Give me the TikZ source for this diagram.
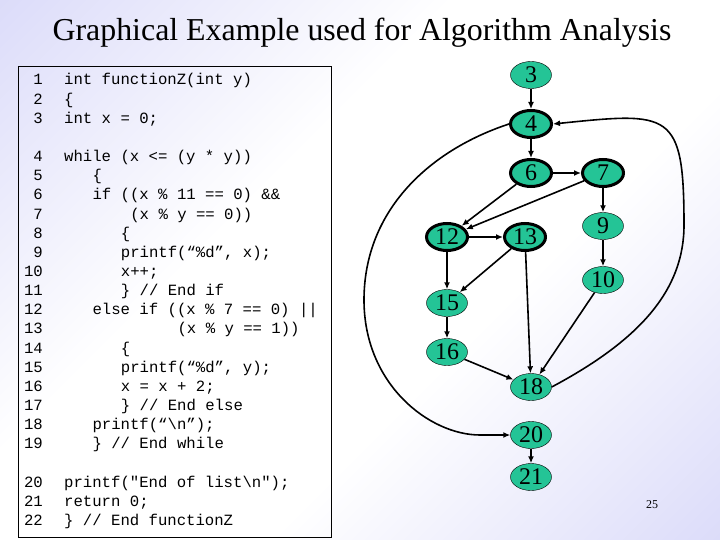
\documentclass[tikz,border=0pt]{standalone}
\usepackage{fontspec}
\setmainfont{Liberation Serif}
\newfontfamily\codefont{Liberation Mono}
\usetikzlibrary{shapes.geometric,arrows.meta}
\definecolor{lavender}{RGB}{200,200,246}
\definecolor{nodegreen}{RGB}{36,196,150}
\pgfdeclareverticalshading{slidebg}{100bp}{color(0bp)=(lavender); color(40bp)=(white);
    color(60bp)=(white); color(100bp)=(lavender)}

\begin{document}
\begin{tikzpicture}[x=1bp, y=-1bp,
    vert/.style={ellipse, draw, fill=nodegreen, minimum width=41bp, minimum height=27bp,
        inner sep=0pt, font=\fontsize{24}{24}\selectfont},
    loopvert/.style={vert, line width=3bp},
    arr/.style={-{Latex[length=7bp,width=6bp]}, line width=1.6bp},
    codeline/.style={anchor=base west, inner sep=0pt, font=\codefont\fontsize{15.7}{19}\selectfont},
    linenum/.style={anchor=base east, inner sep=0pt, font=\codefont\fontsize{15.7}{19}\selectfont}]
    \useasboundingbox (0,0) rectangle (720,540);
    % Background
    \shade[shading=slidebg, shading angle=45] (0,0) rectangle (720,540);

    % Title
    \node (title) at (362,33) {\fontsize{32}{32}\selectfont Graphical Example used for Algorithm Analysis};
    \node (pagenum) at (652,505) {\fontsize{12}{12}\selectfont 25};

    % Code listing
    \draw[line width=0.8bp] (18,66) rectangle (331,537);
    \foreach \num/\row/\ind/\code in {
        1/0/0/{int functionZ(int y)},
        2/1/0/{\{},
        3/2/0/{int x = 0;},
        4/4/0/{while (x <= (y * y))},
        5/5/3/{\{},
        6/6/3/{if ((x \% 11 == 0) \&\&},
        7/7/7/{(x \% y == 0))},
        8/8/6/{\{},
        9/9/6/{printf(“\%d”, x);},
        10/10/6/{x++;},
        11/11/6/{\} // End if},
        12/12/3/{else if ((x \% 7 == 0) ||},
        13/13/12/{(x \% y == 1))},
        14/14/6/{\{},
        15/15/6/{printf(“\%d”, y);},
        16/16/6/{x = x + 2;},
        17/17/6/{\} // End else},
        18/18/3/{printf(“\textbackslash n”);},
        19/19/3/{\} // End while},
        20/21/0/{printf("End of list\textbackslash n");},
        21/22/0/{return 0;},
        22/23/0/{\} // End functionZ}}
    {
        \node[linenum] (num\num) at (43, 85+19.15*\row) {\num};
        \node[codeline] (line\num) at (64+9.45*\ind, 85+19.15*\row) {\code};
    }

    % Flow graph
    \node[vert]     (N3)  at (531,75)  {3};
    \node[loopvert] (N4)  at (531,124) {4};
    \node[loopvert] (N6)  at (531,173) {6};
    \node[loopvert] (N7)  at (603,173) {7};
    \node[vert]     (N9)  at (603,226) {9};
    \node[vert]     (N10) at (603,280) {10};
    \node[loopvert] (N12) at (447,237) {12};
    \node[loopvert] (N13) at (525,237) {13};
    \node[vert]     (N15) at (447,303) {15};
    \node[vert]     (N16) at (447,352) {16};
    \node[vert]     (N18) at (531,387) {18};
    \node[vert]     (N20) at (531,435) {20};
    \node[vert]     (N21) at (531,477) {21};

    \foreach \a/\b in {3/4, 4/6, 6/7, 6/12, 7/12, 7/9, 9/10, 12/13, 12/15,
                       13/15, 13/18, 15/16, 16/18, 10/18, 20/21}
        \draw[arr] (N\a) -- (N\b);

    % Loop back 18 -> 4
    \draw[arr] (N18.east) .. controls (640,340) and (684,290) .. (684,225)
        .. controls (684,110) and (670,112) .. (N4.east);
    % Exit 4 -> 20
    \draw[arr] (N4.west) .. controls (430,150) and (364,210) .. (364,300)
        .. controls (364,385) and (430,435) .. (480,435) -- (N20.west);
\end{tikzpicture}
\end{document}
